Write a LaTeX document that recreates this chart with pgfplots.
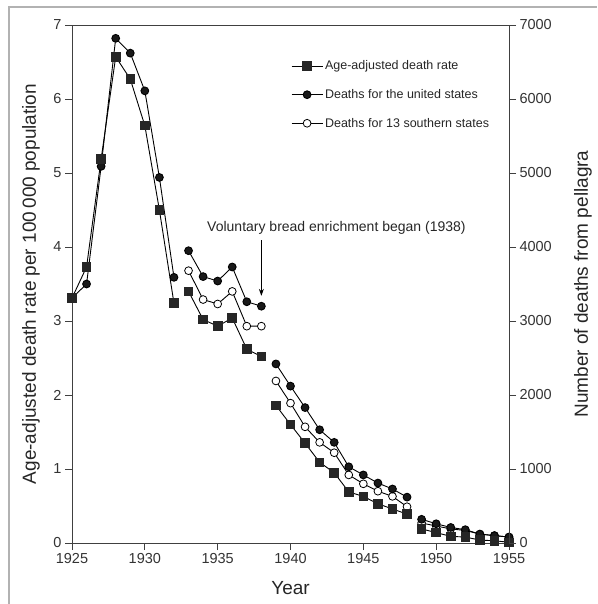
\documentclass[border=0pt]{standalone}
\usepackage{fontspec}
\setmainfont{Liberation Sans}
\usepackage{pgfplots}
\pgfplotsset{compat=1.18}
\usepackage{pgfplotstable}
\usetikzlibrary{arrows.meta}

\pgfplotstableread{
year   rate  us    south
1925   3.31  3310  nan
1926   3.73  3500  nan
1927   5.19  5090  nan
1928   6.57  6820  nan
1929   6.27  6620  nan
1930   5.64  6110  nan
1931   4.50  4940  nan
1932   3.24  3590  nan
1932.5 nan   nan   nan
1933   3.40  3950  3680
1934   3.02  3600  3290
1935   2.93  3540  3230
1936   3.04  3730  3400
1937   2.62  3260  2930
1938   2.52  3200  2930
1938.5 nan   nan   nan
1939   1.86  2420  2190
1940   1.60  2120  1890
1941   1.35  1830  1570
1942   1.09  1530  1360
1943   0.95  1360  1220
1944   0.69  1030  920
1945   0.63  920   800
1946   0.53  810   700
1947   0.46  730   630
1948   0.39  620   490
1948.5 nan   nan   nan
1949   0.19  320   270
1950   0.14  260   230
1951   0.09  210   190
1952   0.08  180   170
1953   0.04  120   120
1954   0.03  100   100
1955   0.01  80    80
}\data

\begin{document}
\begin{tikzpicture}
\begin{axis}[
  name=ax, scale only axis, width=437pt, height=518pt,
  xmin=1925, xmax=1955, ymin=0, ymax=7,
  xtick={1925,1930,...,1955}, ytick={0,1,...,7},
  tick align=outside, xtick pos=bottom, ytick pos=left,
  major tick length=7pt,
  unbounded coords=jump,
  /pgf/number format/assume math mode=true,
  /pgf/number format/1000 sep={},
  tick label style={font=\fontsize{14.5}{16}\selectfont, text=black!80},
  label style={font=\fontsize{19}{22}\selectfont, text=black!85},
  axis line style={black!75, line width=0.8pt},
  every tick/.style={black!75, line width=0.8pt},
  xlabel={Year},
  ylabel={Age-adjusted death rate per 100\,000 population},
  xlabel style={at={(axis description cs:0.5,-0.087)}, anchor=center},
  ylabel style={at={(axis description cs:-0.094,0.5)}, anchor=center},
  legend style={at={(0.501,0.935)}, anchor=north west, draw=none, fill=none,
    font=\fontsize{12.5}{14}\selectfont, text=black!85, row sep=14pt, inner sep=0pt},
  legend cell align=left,
  reverse legend,
  legend image code/.code={
    \draw[mark repeat=2, mark phase=2] plot coordinates {(0pt,0pt) (15.5pt,0pt) (31pt,0pt)};
  },
]
\addplot[black, line width=0.9pt, mark=*, mark size=3.9pt,
  mark options={fill=white, draw=black, line width=0.8pt}]
  table[x=year, y expr=\thisrow{south}/1000] {\data};
\addlegendentry{Deaths for 13 southern states}
\addplot[black, line width=0.9pt, mark=*, mark size=3.9pt,
  mark options={fill=black!90, draw=black}]
  table[x=year, y expr=\thisrow{us}/1000] {\data};
\addlegendentry{Deaths for the united states}
\addplot[black, line width=0.9pt, mark=square*, mark size=4.3pt,
  mark options={fill=black!85, draw=black!85}]
  table[x=year, y=rate] {\data};
\addlegendentry{Age-adjusted death rate}

\node[anchor=west, inner sep=0pt, font=\fontsize{14}{17}\selectfont, text=black!85]
  at (axis cs:1934.27,4.26) {Voluntary bread enrichment began (1938)};
\draw[-{Stealth[length=7pt,width=5pt]}, black, line width=0.8pt]
  (axis cs:1938,4.09) -- (axis cs:1938,3.34);
\end{axis}

\begin{axis}[
  scale only axis, width=437pt, height=518pt,
  xmin=1925, xmax=1955, ymin=0, ymax=7000,
  axis x line=none, axis y line*=right,
  ytick={0,1000,...,7000},
  tick align=outside, major tick length=7pt,
  /pgf/number format/assume math mode=true,
  /pgf/number format/1000 sep={},
  tick label style={font=\fontsize{14.5}{16}\selectfont, text=black!80},
  label style={font=\fontsize{19}{22}\selectfont, text=black!85},
  axis line style={black!75, line width=0.8pt},
  every tick/.style={black!75, line width=0.8pt},
  ylabel={Number of deaths from pellagra},
  ylabel style={at={(axis description cs:1.169,0.5)}, anchor=center, rotate=0},
]
\end{axis}

\draw[line width=2pt, black!30]
  ([shift={(-63pt,-61pt)}]ax.south west) -- ([shift={(-63pt,536pt)}]ax.south west)
  -- ([shift={(525pt,536pt)}]ax.south west);
\pgfresetboundingbox
\path[use as bounding box] ([shift={(-72pt,-61pt)}]ax.south west) rectangle ([shift={(525pt,543pt)}]ax.south west);
\end{tikzpicture}
\end{document}
